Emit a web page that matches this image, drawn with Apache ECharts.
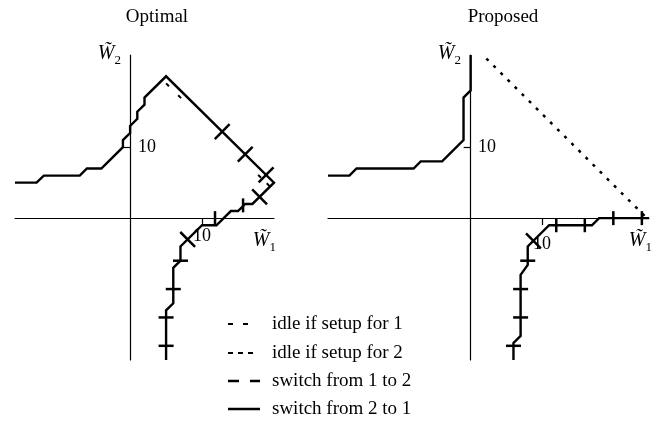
<!DOCTYPE html>
<html>
<head>
<meta charset="utf-8">
<script src="https://cdn.jsdelivr.net/npm/echarts@6/dist/echarts.min.js"></script>
<style>
html, body { margin: 0; padding: 0; background: #fff; }
#main { width: 659px; height: 421px; }
</style>
</head>
<body>
<div id="main"></div>
<script>
// values, in W1/W2 units
var optimalPath = [[-16,5],[-13,5],[-12,6],[-7,6],[-6,7],[-4,7],[-1,10],[-1,11],[0,12],[0,13],[1,14],[1,15],[2,16],[2,17],[5,20],
	[20,5],[17,2],[16,2],[15,1],[14,1],[12,-1],[10,-1],[7,-4],[7,-6],[6,-7],[6,-12],[5,-13],[5,-20]];
var optimalIdleA = [[5,19],[7.1,16.9]];
var optimalIdleB = [[17.8,6.1],[19.5,4.4]];
var optimalTicksV = [[15.7,1.8],[11.8,0]];
var optimalTicksH = [[7,-6],[6,-10],[5,-14],[5,-18]];
var optimalTicksRise = [[12.8,12.2],[16,9],[18.9,6.1]];
var optimalTicksFall = [[18,3],[8,-3]];

var proposedUpper = [[-20,6],[-17,6],[-16,7],[-8,7],[-7,8],[-4,8],[-1,11],[-1,17],[0,18],[0,23]];
var proposedLower = [[25,0],[18,0],[17,-1],[11,-1],[8,-4],[8,-6.6],[7,-8],[7,-16.6],[6,-17.6],[6,-20]];
var proposedIdle = [[2.2,22.5],[24.7,0]];
var proposedTicksV = [[12,-1],[16,-1],[20,0],[24,0]];
var proposedTicksH = [[8,-6],[7,-10],[7,-14],[6,-18]];
var proposedTicksFall = [[8.8,-3.2]];

var tickValues = [10];
var legendNames = ['idle if setup for 1', 'idle if setup for 2', 'switch from 1 to 2', 'switch from 2 to 1'];

var FONT = '"Liberation Serif", "DejaVu Serif", serif';
var chart = echarts.init(document.getElementById('main'));

// labels stay at the grid edge, so the margin carries them over to the zero line
function xAxis(idx, min, max, labelMargin){
	return {
		type: 'value', gridIndex: idx, min: min, max: max,
		axisLine: { onZero: true, lineStyle: { color: '#000', width: 1.2 } },
		axisTick: { customValues: tickValues, length: 7, lineStyle: { color: '#000', width: 1.2 } },
		axisLabel: { customValues: tickValues, margin: labelMargin, color: '#000', fontFamily: FONT, fontSize: 18 },
		splitLine: { show: false }
	};
}
function yAxis(idx, labelMargin){
	return {
		type: 'value', gridIndex: idx, min: -20, max: 23,
		axisLine: { onZero: true, lineStyle: { color: '#000', width: 1.2 } },
		axisTick: { customValues: tickValues, length: 7, lineStyle: { color: '#000', width: 1.2 } },
		axisLabel: { customValues: tickValues, inside: true, margin: labelMargin, color: '#000', fontFamily: FONT, fontSize: 18 },
		splitLine: { show: false }
	};
}
function path(name, idx, data, dash, width){
	return {
		type: 'line', name: name, xAxisIndex: idx, yAxisIndex: idx, data: data,
		symbol: 'none', clip: false, silent: true,
		lineStyle: { color: '#000', width: width || 2.4, type: dash || 'solid', cap: 'butt', join: 'miter' },
		itemStyle: { color: '#000' }
	};
}
function marks(idx, data, size, rotate){
	return {
		type: 'scatter', name: legendNames[2], xAxisIndex: idx, yAxisIndex: idx, data: data,
		symbol: 'rect', symbolSize: size, symbolRotate: rotate, clip: false, silent: true, z: 3,
		itemStyle: { color: '#000', opacity: 1 }
	};
}

var legendIcons = [
	{ icon: 'path://M0,0h5v2h-5zM15,0h5v2h-5z', w: 20, h: 2 },
	{ icon: 'path://M0,0h5v2h-5zM10,0h5v2h-5zM20,0h5v2h-5z', w: 25, h: 2 },
	{ icon: 'path://M0,0h11v2.5h-11zM22,0h10v2.5h-10z', w: 32, h: 2.5 },
	{ icon: 'path://M0,0h32v2.5h-32z', w: 32, h: 2.5 }
];
var legendRowY = [324, 353, 381, 409];
var legends = legendNames.map(function(name, i){
	var ic = legendIcons[i];
	return {
		orient: 'vertical', left: 228, top: legendRowY[i] - 10, padding: 0,
		itemWidth: ic.w, itemHeight: ic.h, selectedMode: false,
		data: [{ name: name, icon: ic.icon, itemStyle: { color: '#000', opacity: 1 } }],
		textStyle: { fontFamily: FONT, fontSize: 19, color: '#000', lineHeight: 20, padding: [0, 0, 0, 39 - ic.w] }
	};
});

var wRich = {
	w: { fontFamily: FONT, fontStyle: 'italic', fontSize: 20, lineHeight: 26, color: '#000' },
	s: { fontFamily: FONT, fontSize: 13, lineHeight: 12, verticalAlign: 'bottom', color: '#000' }
};
function label(text, x, y, align, vAlign){
	return { type: 'text', x: x, y: y, silent: true,
		style: { text: text, rich: wRich, align: align, verticalAlign: vAlign, fill: '#000' } };
}

chart.setOption({
	animation: false,
	backgroundColor: '#fff',
	grid: [
		{ left: 15, top: 55, width: 259, height: 305 },
		{ left: 328, top: 55, width: 321, height: 305 }
	],
	xAxis: [xAxis(0, -16, 20, -133), xAxis(1, -20, 25, -125)],
	yAxis: [yAxis(0, 123), yAxis(1, 150)],
	legend: legends,
	graphic: [
		{ type: 'text', x: 157, y: 17, silent: true, style: { text: 'Optimal', fontFamily: FONT, fontSize: 19, fill: '#000', align: 'center', verticalAlign: 'middle' } },
		{ type: 'text', x: 503, y: 17, silent: true, style: { text: 'Proposed', fontFamily: FONT, fontSize: 19, fill: '#000', align: 'center', verticalAlign: 'middle' } },
		label('{w|W\u0303}{s|2}', 121, 67, 'right', 'bottom'),
		label('{w|W\u0303}{s|2}', 461, 67, 'right', 'bottom'),
		label('{w|W\u0303}{s|1}', 276, 228, 'right', 'top'),
		label('{w|W\u0303}{s|1}', 652, 228, 'right', 'top')
	],
	series: [
		path(legendNames[3], 0, optimalPath),
		path(legendNames[0], 0, optimalIdleA, [4, 13], 2),
		path(legendNames[0], 0, optimalIdleB, [4, 8], 2),
		marks(0, optimalTicksV, [2.5, 14], 0),
		marks(0, optimalTicksH, [15, 2.5], 0),
		marks(0, optimalTicksRise, [2.5, 21], -45),
		marks(0, optimalTicksFall, [2.5, 21], 45),
		path(legendNames[3], 1, proposedUpper),
		path(legendNames[3], 1, proposedLower),
		path(legendNames[1], 1, proposedIdle, [3, 7], 2.5),
		marks(1, proposedTicksV, [2.5, 14], 0),
		marks(1, proposedTicksH, [15, 2.5], 0),
		marks(1, proposedTicksFall, [2.5, 21], 45)
	]
});
</script>
</body>
</html>
